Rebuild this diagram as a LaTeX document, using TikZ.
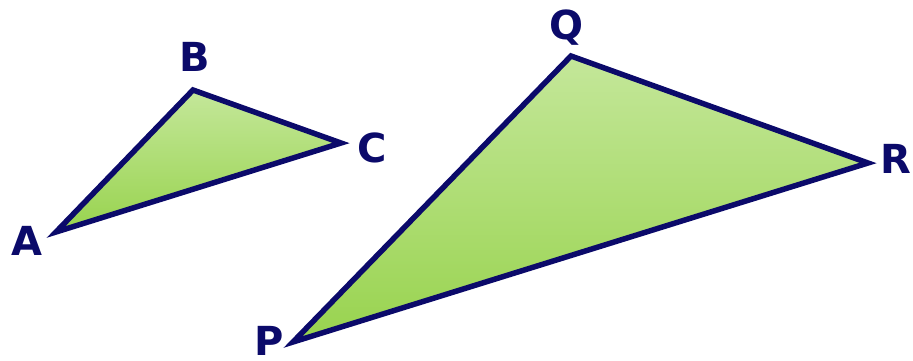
\documentclass[tikz,border=0pt]{standalone}
\usepackage{fontspec}
\setsansfont{DejaVu Sans}
\usetikzlibrary{positioning}
\definecolor{navy}{HTML}{0B0A6A}
\definecolor{greentop}{HTML}{C4E79A}
\definecolor{greenbot}{HTML}{98D34E}

\begin{document}
\begin{tikzpicture}[
    x=1pt, y=-1pt,
    tri/.style={draw=navy, line width=5.5pt, line join=miter, miter limit=20,
                top color=greentop, bottom color=greenbot},
    vlbl/.style={text=navy, inner sep=0pt, anchor=base,
                 font=\sffamily\bfseries\fontsize{40}{40}\selectfont}
]
\useasboundingbox (0,0) rectangle (913,361);

% ===== SMALL TRIANGLE =====
\coordinate (A) at (56,232);
\coordinate (B) at (193,90);
\coordinate (C) at (341,143);
\draw[tri] (A) -- (B) -- (C) -- cycle;
\node[vlbl] (LA) at (27,255) {A};
\node[vlbl] (LB) at (195,72) {B};
\node[vlbl] (LC) at (372,162) {C};

% ===== LARGE TRIANGLE =====
\coordinate (P) at (293,342);
\coordinate (Q) at (571,56);
\coordinate (R) at (868,163);
\draw[tri] (P) -- (Q) -- (R) -- cycle;
\node[vlbl] (LP) at (269,355) {P};
\node[vlbl] (LQ) at (566,40) {Q};
\node[vlbl] (LR) at (896,173) {R};

\end{tikzpicture}
\end{document}
